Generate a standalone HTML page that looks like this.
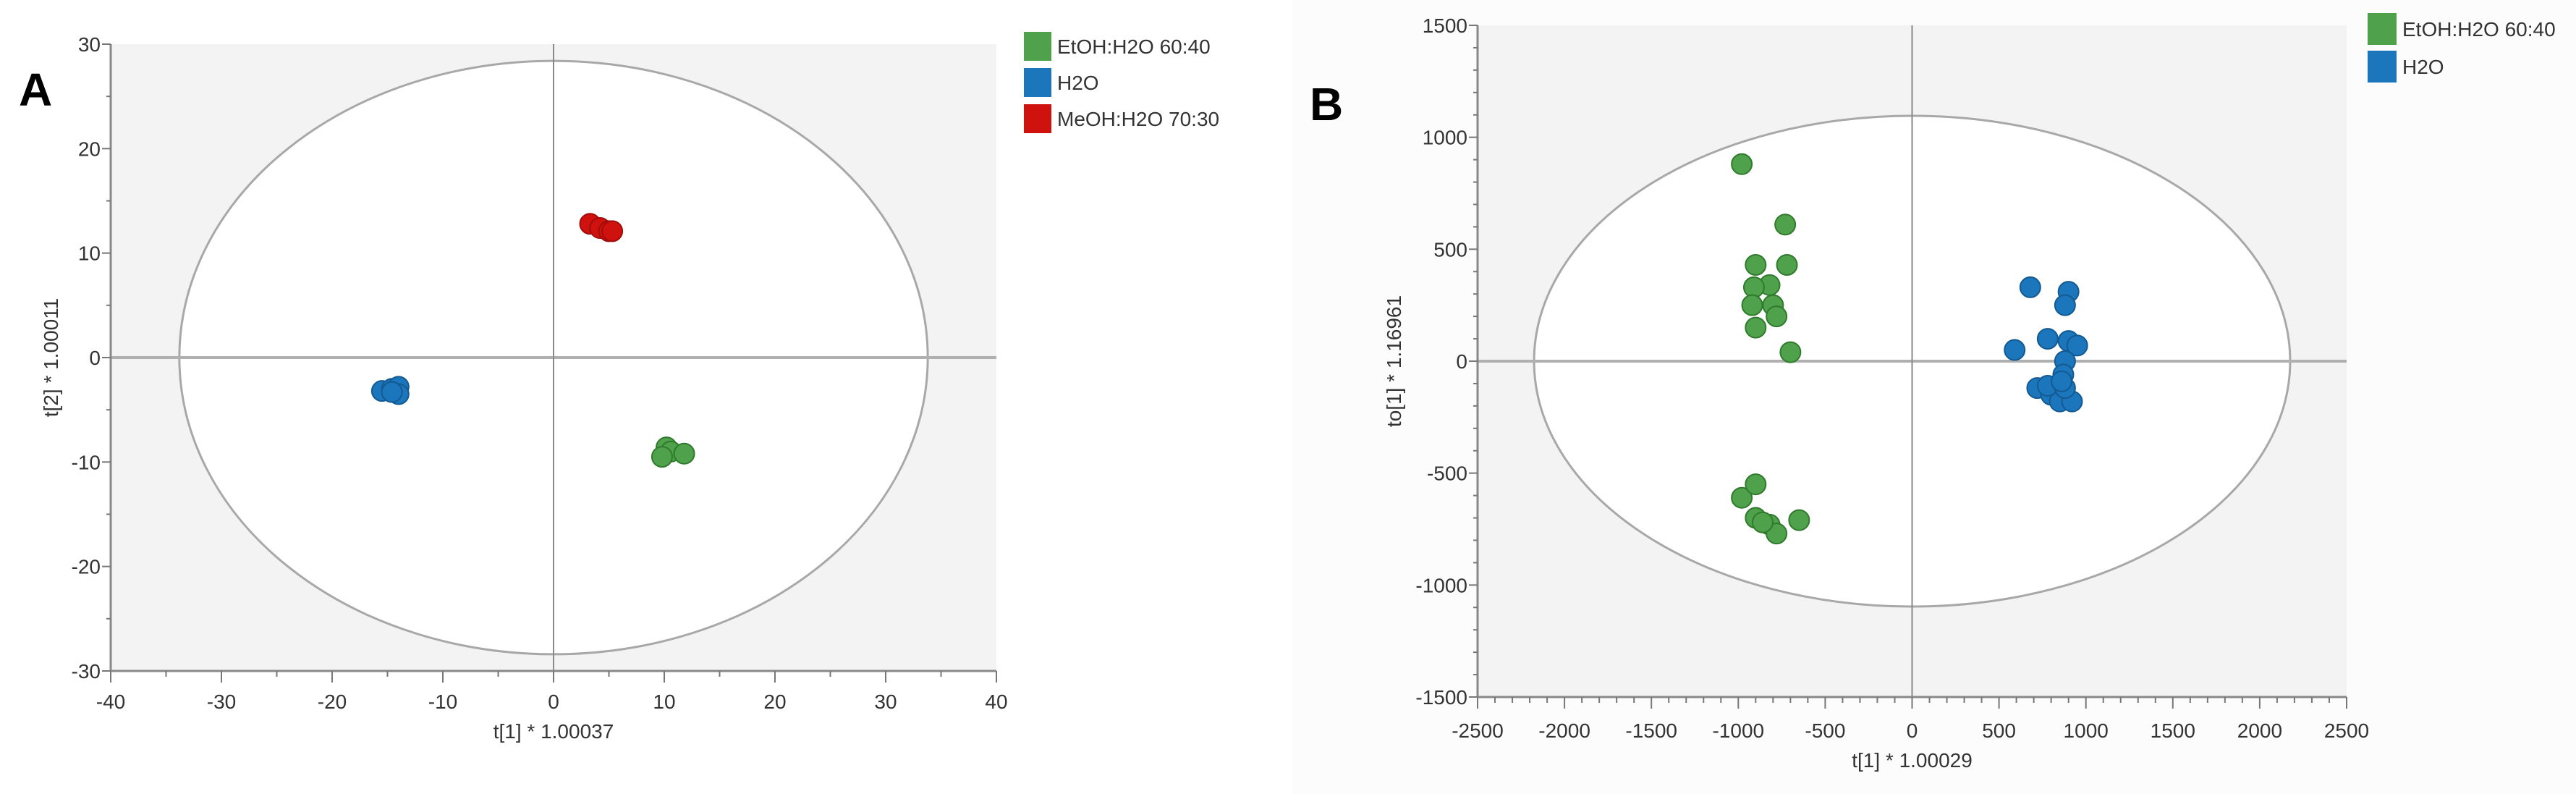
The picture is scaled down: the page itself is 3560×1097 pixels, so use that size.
<!DOCTYPE html>
<html><head><meta charset="utf-8"><style>
html,body{margin:0;padding:0;background:#fff;width:3560px;height:1097px;overflow:hidden}
svg{display:block;font-family:"Liberation Sans",sans-serif}
</style></head><body>
<svg id="root" width="3560" height="1097" viewBox="0 0 3560 1097">
<rect x="1785" y="0" width="1775" height="1097" fill="#fcfcfc"/>
<g id="pa"></g>
<g id="pb"></g>
</svg>
<script>
// Panel A data
const aEtOH_x=[10.2,10.6,9.8,11.8];
const aEtOH_y=[-8.6,-9.0,-9.5,-9.2];
const aH2O_x=[-15.5,-14.6,-14.0,-14.0,-14.6];
const aH2O_y=[-3.2,-3.0,-2.8,-3.5,-3.3];
const aMeOH_x=[3.3,4.2,5.0,5.3];
const aMeOH_y=[12.8,12.4,12.1,12.1];
const aXTicks=[-40,-30,-20,-10,0,10,20,30,40];
const aYTicks=[-30,-20,-10,0,10,20,30];
const aEllipse=[33.8,28.4];
// Panel B data
const bEtOH_x=[-980,-730,-900,-720,-820,-910,-800,-920,-780,-900,-700,-980,-900,-900,-820,-780,-650,-860];
const bEtOH_y=[880,610,430,430,340,330,250,250,200,150,40,-610,-550,-700,-730,-770,-710,-720];
const bH2O_x=[680,900,880,590,780,900,950,880,870,720,800,850,920,780,880,860];
const bH2O_y=[330,310,250,50,100,90,70,0,-60,-120,-150,-180,-180,-110,-120,-90];
const bXTicks=[-2500,-2000,-1500,-1000,-500,0,500,1000,1500,2000,2500];
const bYTicks=[-1500,-1000,-500,0,500,1000,1500];
const bEllipse=[2175,1096];

const NS="http://www.w3.org/2000/svg";
function mk(p,t,a,txt){const e=document.createElementNS(NS,t);for(const k in a)e.setAttribute(k,a[k]);if(txt!==undefined)e.textContent=txt;p.appendChild(e);return e;}

function panel(g,o){
  const sx=v=>o.x0+(v-o.xmin)/(o.xmax-o.xmin)*(o.x1-o.x0);
  const sy=v=>o.y1-(v-o.ymin)/(o.ymax-o.ymin)*(o.y1-o.y0);
  let e=mk(g,'rect',{x:o.x0,y:o.y0,width:o.x1-o.x0,height:o.y1-o.y0,fill:'#f3f3f3'});
  
  
  e=mk(g,'ellipse',{cx:sx(0),cy:sy(0),rx:sx(o.ell[0])-sx(0),ry:sy(0)-sy(o.ell[1]),fill:'#fff',stroke:'#a8a8a8','stroke-width':3});
  
  
  e=mk(g,'line',{x1:o.x0,x2:o.x1,y1:sy(0),y2:sy(0),stroke:'#b0b0b0','stroke-width':4});
  
  
  e=mk(g,'line',{x1:sx(0),x2:sx(0),y1:o.y0,y2:o.y1,stroke:'#8a8a8a','stroke-width':2});
  
  
  // axes
  e=mk(g,'line',{x1:o.x0,x2:o.x1,y1:o.y1,y2:o.y1,stroke:'#888','stroke-width':3});
  
  
  e=mk(g,'line',{x1:o.x0,x2:o.x0,y1:o.y0,y2:o.y1,stroke:'#888','stroke-width':3});
  
  
  for(let v=o.xmin;v<=o.xmax+1e-9;v+=o.xminor){
    const maj=Math.abs(v/o.xmaj-Math.round(v/o.xmaj))<1e-6;
    e=mk(g,'line',{x1:sx(v),x2:sx(v),y1:o.y1,y2:o.y1+(maj?16:8),stroke:'#777','stroke-width':2});
    
    
  }
  for(let v=o.ymin;v<=o.ymax+1e-9;v+=o.yminor){
    const maj=Math.abs(v/o.ymaj-Math.round(v/o.ymaj))<1e-6;
    e=mk(g,'line',{x1:o.x0-(maj?12:6),x2:o.x0,y1:sy(v),y2:sy(v),stroke:'#777','stroke-width':2});
    
    
  }
  o.xt.forEach(v=>{e=mk(g,'text',{x:sx(v),y:o.y1+o.xlabOff,'text-anchor':'middle','font-size':28,fill:'#333'},String(v));
    
    });
  o.yt.forEach(v=>{e=mk(g,'text',{x:o.x0-14,y:sy(v)+10,'text-anchor':'end','font-size':28,fill:'#333'},String(v));
    
    });
  e=mk(g,'text',{x:sx(0),y:o.xtitleY,'text-anchor':'middle','font-size':28,fill:'#333'},o.xtitle);
  
  
  e=mk(g,'text',{x:o.ytitleX,y:(o.y0+o.y1)/2,'text-anchor':'middle','font-size':28,fill:'#333',transform:`rotate(-90 ${o.ytitleX} ${(o.y0+o.y1)/2})`},o.ytitle);
  
  
  o.series.forEach(s=>{
    s.xs.forEach((xv,i)=>{
      e=mk(g,'circle',{cx:sx(xv),cy:sy(s.ys[i]),r:14,fill:s.fill,stroke:s.stroke,'stroke-width':2});
      
      
    });
  });
  o.series.forEach((s,i)=>{
    e=mk(g,'rect',{x:o.lx,y:o.ly+i*o.lstep,width:o.lw,height:o.lh,fill:s.fill});
    
    
    e=mk(g,'text',{x:o.lx+o.lw+8,y:o.ly+i*o.lstep+o.lh/2+10,'font-size':28,fill:'#333'},s.label);
    
    
  });
  e=mk(g,'text',{x:o.labX,y:o.labY,'font-size':64,'font-weight':'bold',fill:'#000'},o.lab);
  
  
}
const G='#4fa24b',GS='#2f7a2c',B='#1b76bc',BS='#135a92',R='#d0120e',RS='#a00c0a';
panel(document.getElementById('pa'),{x0:153,x1:1377,y0:61,y1:927,xmin:-40,xmax:40,ymin:-30,ymax:30,
  xmaj:10,xminor:5,ymaj:10,yminor:5,xt:aXTicks,yt:aYTicks,ell:aEllipse,xlabOff:52,xtitleY:1020,ytitleX:80,
  xtitle:'t[1] * 1.00037',ytitle:'t[2] * 1.00011',lx:1415,ly:44,lw:38,lh:40,lstep:50,labX:26,labY:146,lab:'A',
  series:[{key:'etoh',label:'EtOH:H2O 60:40',fill:G,stroke:GS,xs:aEtOH_x,ys:aEtOH_y},
          {key:'h2o',label:'H2O',fill:B,stroke:BS,xs:aH2O_x,ys:aH2O_y},
          {key:'meoh',label:'MeOH:H2O 70:30',fill:R,stroke:RS,xs:aMeOH_x,ys:aMeOH_y}]});
panel(document.getElementById('pb'),{x0:2042,x1:3243,y0:35,y1:963,xmin:-2500,xmax:2500,ymin:-1500,ymax:1500,
  xmaj:500,xminor:100,ymaj:500,yminor:100,xt:bXTicks,yt:bYTicks,ell:bEllipse,xlabOff:56,xtitleY:1060,ytitleX:1936,
  xtitle:'t[1] * 1.00029',ytitle:'to[1] * 1.16961',lx:3272,ly:18,lw:40,lh:44,lstep:52,labX:1810,labY:166,lab:'B',
  series:[{key:'etoh',label:'EtOH:H2O 60:40',fill:G,stroke:GS,xs:bEtOH_x,ys:bEtOH_y},
          {key:'h2o',label:'H2O',fill:B,stroke:BS,xs:bH2O_x,ys:bH2O_y}]});
</script>
</body></html>
